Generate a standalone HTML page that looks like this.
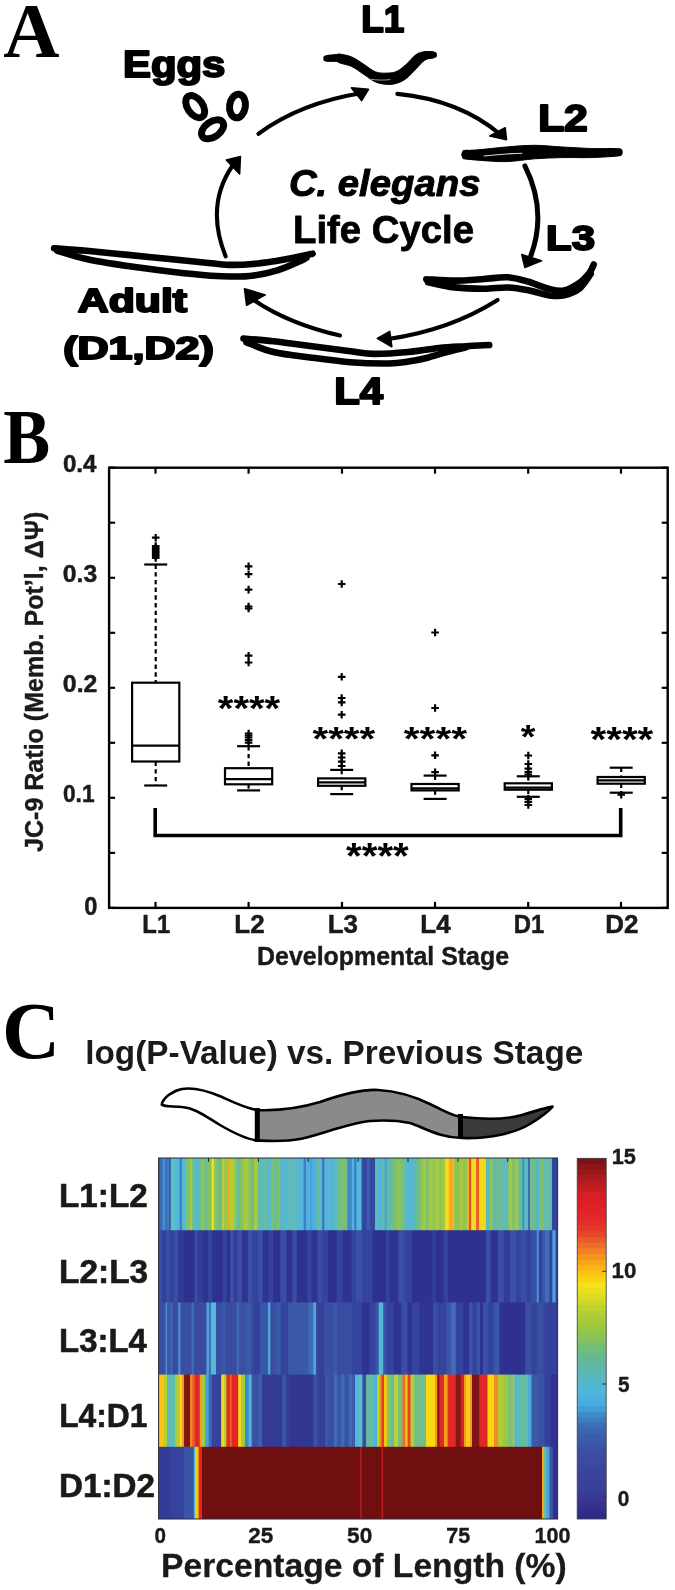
<!DOCTYPE html>
<html><head><meta charset="utf-8"><style>
html,body{margin:0;padding:0;background:#fff;}
svg{display:block;will-change:transform;}
</style></head><body>
<svg width="675" height="1590" viewBox="0 0 675 1590">
<rect width="675" height="1590" fill="#fff"/>
<text transform="translate(3.22,56.60) scale(1.0019,1)" font-family="Liberation Serif" font-weight="bold" font-style="normal" font-size="77.73" fill="#000">A</text>
<text transform="translate(123.08,77.40) scale(1.1594,1)" font-family="Liberation Sans" font-weight="bold" font-style="normal" font-size="36.09" fill="#000" stroke="#000" stroke-width="2.00" stroke-linejoin="round">Eggs</text>
<text transform="translate(361.20,31.70) scale(0.9877,1)" font-family="Liberation Sans" font-weight="bold" font-style="normal" font-size="37.39" fill="#000" stroke="#000" stroke-width="2.00" stroke-linejoin="round">L1</text>
<text transform="translate(538.13,130.60) scale(1.1634,1)" font-family="Liberation Sans" font-weight="bold" font-style="normal" font-size="36.57" fill="#000" stroke="#000" stroke-width="2.00" stroke-linejoin="round">L2</text>
<text transform="translate(546.08,249.90) scale(1.1773,1)" font-family="Liberation Sans" font-weight="bold" font-style="normal" font-size="35.57" fill="#000" stroke="#000" stroke-width="2.00" stroke-linejoin="round">L3</text>
<text transform="translate(334.28,404.10) scale(1.1318,1)" font-family="Liberation Sans" font-weight="bold" font-style="normal" font-size="36.96" fill="#000" stroke="#000" stroke-width="2.00" stroke-linejoin="round">L4</text>
<text transform="translate(77.73,312.20) scale(1.2903,1)" font-family="Liberation Sans" font-weight="bold" font-style="normal" font-size="33.19" fill="#000" stroke="#000" stroke-width="2.00" stroke-linejoin="round">Adult</text>
<text transform="translate(63.15,359.10) scale(1.3690,1)" font-family="Liberation Sans" font-weight="bold" font-style="normal" font-size="31.45" fill="#000" stroke="#000" stroke-width="2.00" stroke-linejoin="round">(D1,D2)</text>
<text transform="translate(288.88,196.10) scale(1.0315,1)" font-family="Liberation Sans" font-weight="bold" font-style="italic" font-size="37.14" fill="#000" stroke="#000" stroke-width="1.00" stroke-linejoin="round">C. elegans</text>
<text transform="translate(293.01,243.00) scale(0.9938,1)" font-family="Liberation Sans" font-weight="bold" font-style="normal" font-size="38.55" fill="#000" stroke="#000" stroke-width="0.80" stroke-linejoin="round">Life Cycle</text>
<g fill="none" stroke="#000" stroke-width="7">
<ellipse cx="195.2" cy="106.6" rx="12.4" ry="7.6" transform="rotate(55 195.2 106.6)"/>
<ellipse cx="212.6" cy="129.3" rx="12.4" ry="7.6" transform="rotate(-35 212.6 129.3)"/>
<ellipse cx="237.5" cy="106" rx="11.9" ry="7.9" transform="rotate(98 237.5 106)"/>
</g>
<g fill="none" stroke="#000" stroke-width="4.1" stroke-linecap="round">
<path d="M258.4,133.8 Q300,103 362,93"/>
<path d="M397.3,93.9 Q460,100 501,135"/>
<path d="M524.9,165.9 Q548,212 530,258" stroke-width="5"/>
<path d="M497.6,299.9 Q450,330 388,339"/>
<path d="M340,335.5 Q285,323 248,296"/>
<path d="M225.6,256.3 Q205,205 233,165"/>
</g>
<g fill="#000" stroke="#000" stroke-width="1.6" stroke-linejoin="round">
<path d="M368.5,89.4 L351.5,87.9 L361.6,100.6 Z"/>
<path d="M506.5,139.7 L489.8,135.9 L505.2,127.8 Z"/>
<path d="M524.9,267.5 L521.8,254.6 L541.5,260.8 Z"/>
<path d="M377.3,338.4 L389.7,331.4 L391.8,346.7 Z"/>
<path d="M244.5,288.7 L246.6,305.3 L265.3,294.9 Z"/>
<path d="M240.4,156.6 L226.3,160 L239.6,174 Z"/>
</g>
<path d="M327.0,55.4 C328.5,55.3 333.8,54.8 336.0,54.6 C338.2,54.4 337.4,53.7 340.0,54.1 C342.6,54.5 347.9,55.4 351.9,57.1 C355.8,58.8 359.8,61.7 363.7,64.2 C367.6,66.7 371.7,70.4 375.6,71.9 C379.6,73.4 383.8,73.2 387.4,73.1 C390.9,73.0 393.7,72.8 396.9,71.3 C400.1,69.8 403.2,67.0 406.4,64.2 C409.6,61.4 412.8,56.8 415.9,54.7 C419.0,52.6 422.0,52.1 425.0,51.6 C428.0,51.1 432.3,51.8 433.8,51.8 L433.8,58.0 C432.3,58.3 428.0,58.2 425.0,60.0 C422.0,61.8 419.0,65.9 415.9,69.0 C412.8,72.1 409.6,76.0 406.4,78.4 C403.2,80.8 400.1,82.2 396.9,83.2 C393.7,84.2 390.9,84.6 387.4,84.4 C383.8,84.2 379.6,83.7 375.6,82.0 C371.7,80.3 367.6,76.9 363.7,74.3 C359.8,71.7 355.8,68.5 351.9,66.6 C347.9,64.7 342.6,63.9 340.0,63.0 C337.4,62.1 338.2,61.7 336.0,61.4 C333.8,61.1 328.5,61.4 327.0,61.4 Z" fill="#000" stroke="#000" stroke-width="1" stroke-linejoin="round"/>
<path d="M326.5,58.4 C327.8,58.4 332.8,58.2 334.0,58.2" fill="none" stroke="#000" stroke-width="6.4" stroke-linecap="round" stroke-linejoin="round"/>
<path d="M428.0,55.0 C429.0,55.0 432.8,54.9 433.8,54.9" fill="none" stroke="#000" stroke-width="6.4" stroke-linecap="round" stroke-linejoin="round"/>
<path d="M463.0,150.6 C465.5,150.5 470.8,150.4 478.0,149.8 C485.2,149.2 496.9,147.8 506.3,147.0 C515.7,146.2 525.0,145.3 534.4,145.3 C543.8,145.3 553.2,146.5 562.6,147.0 C572.0,147.5 582.5,148.2 590.7,148.5 C598.9,148.8 607.0,148.4 612.0,148.5 C617.0,148.6 619.5,148.9 621.0,149.0 L621.0,155.5 C619.5,155.7 617.0,156.2 612.0,156.5 C607.0,156.8 598.9,157.4 590.7,157.6 C582.5,157.8 572.0,157.4 562.6,157.6 C553.2,157.8 543.8,158.1 534.4,158.8 C525.0,159.5 515.7,161.4 506.3,161.6 C496.9,161.8 485.2,160.7 478.0,160.2 C470.8,159.7 465.5,158.9 463.0,158.6 Z" fill="#000" stroke="#000" stroke-width="1" stroke-linejoin="round"/>
<path d="M466.0,154.6 C467.0,154.7 471.0,154.9 472.0,155.0" fill="none" stroke="#000" stroke-width="9.5" stroke-linecap="round" stroke-linejoin="round"/>
<path d="M612.0,152.5 C613.2,152.5 617.8,152.3 619.0,152.3" fill="none" stroke="#000" stroke-width="7.5" stroke-linecap="round" stroke-linejoin="round"/>
<path d="M484,156 C495,154.8 508,153.6 522,153.2" fill="none" stroke="#fff" stroke-width="1.1" stroke-opacity="0.85" stroke-linecap="round"/>
<path d="M371,79.3 C377,80.2 384,80.4 390,79.6" fill="none" stroke="#fff" stroke-width="1" stroke-opacity="0.6" stroke-linecap="round"/>
<path d="M426.3,279.2 C431.0,279.4 444.8,280.6 454.4,280.6 C464.0,280.6 475.1,279.6 484.0,279.0 C492.9,278.4 500.4,276.8 507.8,277.3 C515.2,277.8 521.6,279.9 528.5,281.8 C535.4,283.8 543.4,287.6 549.3,289.0 C555.2,290.4 559.1,291.4 564.0,290.5 C568.9,289.6 574.7,286.2 578.9,283.3 C583.1,280.4 586.8,276.1 589.3,273.0 C591.8,269.9 593.0,265.9 593.7,264.5" fill="none" stroke="#000" stroke-width="6.6" stroke-linecap="round" stroke-linejoin="round"/>
<path d="M428.0,282.2 C432.4,283.1 445.1,286.3 454.4,287.4 C463.7,288.5 475.1,288.8 484.0,288.8 C492.9,288.8 500.4,287.2 507.8,287.5 C515.2,287.8 521.6,289.0 528.5,290.3 C535.4,291.6 543.4,294.5 549.3,295.4 C555.2,296.2 559.1,296.5 564.0,295.4 C568.9,294.3 574.4,292.6 578.9,289.0 C583.4,285.4 588.7,276.5 590.7,274.0" fill="none" stroke="#000" stroke-width="6.6" stroke-linecap="round" stroke-linejoin="round"/>
<path d="M243.5,338.5 C248.5,338.9 262.1,339.9 273.5,341.2 C284.9,342.5 299.2,344.5 312.0,346.2 C324.8,347.9 340.2,349.9 350.5,351.2 C360.8,352.5 364.1,353.8 373.7,353.9 C383.3,354.0 397.4,353.0 408.3,352.0 C419.2,351.0 429.4,349.0 439.0,348.0 C448.6,347.0 457.6,346.7 466.0,346.2 C474.4,345.7 485.3,345.2 489.2,345.0" fill="none" stroke="#000" stroke-width="6.6" stroke-linecap="round" stroke-linejoin="round"/>
<path d="M246.5,342.3 C251.0,343.9 262.6,349.4 273.5,352.0 C284.4,354.6 299.2,356.0 312.0,357.7 C324.8,359.4 337.7,361.3 350.5,362.3 C363.3,363.3 379.4,363.6 389.0,363.5 C398.6,363.4 401.9,362.6 408.3,361.6 C414.7,360.6 421.2,359.3 427.6,357.7 C434.0,356.1 440.4,353.7 446.8,352.0 C453.2,350.3 462.8,348.1 466.0,347.3" fill="none" stroke="#000" stroke-width="6.6" stroke-linecap="round" stroke-linejoin="round"/>
<path d="M54.1,248.3 C59.5,248.7 74.2,249.7 86.5,250.8 C98.8,251.9 114.2,253.5 128.0,254.9 C141.8,256.3 155.7,257.6 169.5,259.0 C183.3,260.4 200.6,262.2 211.0,263.2 C221.4,264.2 224.8,264.8 231.7,264.9 C238.6,265.0 244.9,264.7 252.5,264.0 C260.1,263.3 270.5,261.7 277.4,260.7 C284.3,259.7 288.1,259.0 294.0,257.8 C299.9,256.6 309.5,254.4 312.6,253.7" fill="none" stroke="#000" stroke-width="6.6" stroke-linecap="round" stroke-linejoin="round"/>
<path d="M57.4,250.8 C62.2,252.2 74.7,256.4 86.5,259.0 C98.3,261.6 114.2,264.0 128.0,266.1 C141.8,268.2 155.7,269.9 169.5,271.5 C183.3,273.1 200.6,274.9 211.0,275.7 C221.4,276.5 224.8,276.5 231.7,276.5 C238.6,276.5 244.9,276.7 252.5,275.7 C260.1,274.7 269.8,272.6 277.4,270.3 C285.0,268.0 293.2,264.1 298.0,262.0 C302.8,259.9 305.0,258.5 306.4,257.8" fill="none" stroke="#000" stroke-width="6.6" stroke-linecap="round" stroke-linejoin="round"/>
<text transform="translate(3.34,462.81) scale(0.8935,1)" font-family="Liberation Serif" font-weight="bold" font-style="normal" font-size="78.79" fill="#000">B</text>
<rect x="109.1" y="467.7" width="558.6" height="440.2" fill="none" stroke="#000" stroke-width="2.4"/>
<g stroke="#000" stroke-width="2.2">
<line x1="109.1" y1="907.9" x2="115.1" y2="907.9"/>
<line x1="667.7" y1="907.9" x2="661.7" y2="907.9"/>
<line x1="109.1" y1="852.9" x2="115.1" y2="852.9"/>
<line x1="667.7" y1="852.9" x2="661.7" y2="852.9"/>
<line x1="109.1" y1="797.8" x2="115.1" y2="797.8"/>
<line x1="667.7" y1="797.8" x2="661.7" y2="797.8"/>
<line x1="109.1" y1="742.8" x2="115.1" y2="742.8"/>
<line x1="667.7" y1="742.8" x2="661.7" y2="742.8"/>
<line x1="109.1" y1="687.8" x2="115.1" y2="687.8"/>
<line x1="667.7" y1="687.8" x2="661.7" y2="687.8"/>
<line x1="109.1" y1="632.8" x2="115.1" y2="632.8"/>
<line x1="667.7" y1="632.8" x2="661.7" y2="632.8"/>
<line x1="109.1" y1="577.8" x2="115.1" y2="577.8"/>
<line x1="667.7" y1="577.8" x2="661.7" y2="577.8"/>
<line x1="109.1" y1="522.7" x2="115.1" y2="522.7"/>
<line x1="667.7" y1="522.7" x2="661.7" y2="522.7"/>
<line x1="109.1" y1="467.7" x2="115.1" y2="467.7"/>
<line x1="667.7" y1="467.7" x2="661.7" y2="467.7"/>
<line x1="155.5" y1="907.9" x2="155.5" y2="901.9"/>
<line x1="155.5" y1="467.7" x2="155.5" y2="473.7"/>
<line x1="248.6" y1="907.9" x2="248.6" y2="901.9"/>
<line x1="248.6" y1="467.7" x2="248.6" y2="473.7"/>
<line x1="342" y1="907.9" x2="342" y2="901.9"/>
<line x1="342" y1="467.7" x2="342" y2="473.7"/>
<line x1="435" y1="907.9" x2="435" y2="901.9"/>
<line x1="435" y1="467.7" x2="435" y2="473.7"/>
<line x1="528.2" y1="907.9" x2="528.2" y2="901.9"/>
<line x1="528.2" y1="467.7" x2="528.2" y2="473.7"/>
<line x1="621" y1="907.9" x2="621" y2="901.9"/>
<line x1="621" y1="467.7" x2="621" y2="473.7"/>
</g>
<text transform="translate(62.88,472.30) scale(0.9748,1)" font-family="Liberation Sans" font-weight="bold" font-style="normal" font-size="24.79" fill="#1a1a1a" stroke="#1a1a1a" stroke-width="0.50" stroke-linejoin="round">0.4</text>
<text transform="translate(62.86,582.35) scale(0.9970,1)" font-family="Liberation Sans" font-weight="bold" font-style="normal" font-size="24.79" fill="#1a1a1a" stroke="#1a1a1a" stroke-width="0.50" stroke-linejoin="round">0.3</text>
<text transform="translate(62.86,692.40) scale(1.0008,1)" font-family="Liberation Sans" font-weight="bold" font-style="normal" font-size="24.79" fill="#1a1a1a" stroke="#1a1a1a" stroke-width="0.50" stroke-linejoin="round">0.2</text>
<text transform="translate(62.94,802.45) scale(0.9164,1)" font-family="Liberation Sans" font-weight="bold" font-style="normal" font-size="24.79" fill="#1a1a1a" stroke="#1a1a1a" stroke-width="0.50" stroke-linejoin="round">0.1</text>
<text transform="translate(84.21,915.49) scale(0.9198,1)" font-family="Liberation Sans" font-weight="bold" font-style="normal" font-size="25.63" fill="#1a1a1a" stroke="#1a1a1a" stroke-width="0.50" stroke-linejoin="round">0</text>
<text transform="translate(142.32,932.75) scale(0.9200,1)" font-family="Liberation Sans" font-weight="bold" font-style="normal" font-size="25.94" fill="#1a1a1a" stroke="#1a1a1a" stroke-width="0.50" stroke-linejoin="round">L1</text>
<text transform="translate(234.36,932.75) scale(1.0000,1)" font-family="Liberation Sans" font-weight="bold" font-style="normal" font-size="25.94" fill="#1a1a1a" stroke="#1a1a1a" stroke-width="0.50" stroke-linejoin="round">L2</text>
<text transform="translate(327.70,932.75) scale(1.0000,1)" font-family="Liberation Sans" font-weight="bold" font-style="normal" font-size="25.94" fill="#1a1a1a" stroke="#1a1a1a" stroke-width="0.50" stroke-linejoin="round">L3</text>
<text transform="translate(420.31,932.75) scale(1.0000,1)" font-family="Liberation Sans" font-weight="bold" font-style="normal" font-size="25.94" fill="#1a1a1a" stroke="#1a1a1a" stroke-width="0.50" stroke-linejoin="round">L4</text>
<text transform="translate(513.71,932.75) scale(0.9200,1)" font-family="Liberation Sans" font-weight="bold" font-style="normal" font-size="25.94" fill="#1a1a1a" stroke="#1a1a1a" stroke-width="0.50" stroke-linejoin="round">D1</text>
<text transform="translate(605.34,932.75) scale(1.0000,1)" font-family="Liberation Sans" font-weight="bold" font-style="normal" font-size="25.94" fill="#1a1a1a" stroke="#1a1a1a" stroke-width="0.50" stroke-linejoin="round">D2</text>
<text transform="translate(257.08,964.70) scale(0.9940,1)" font-family="Liberation Sans" font-weight="bold" font-style="normal" font-size="25.07" fill="#1a1a1a" stroke="#1a1a1a" stroke-width="0.40" stroke-linejoin="round">Developmental Stage</text>
<g transform="translate(42.9,851.6) rotate(-90)">
<text transform="translate(-0.38,0) scale(0.9500,1)" font-family="Liberation Sans" font-weight="bold" font-size="26.38" fill="#1a1a1a" stroke="#1a1a1a" stroke-width="0.4">JC-9 Ratio (Memb. Pot’l, ΔΨ)</text>
</g>
<g stroke="#000" stroke-width="2.2" fill="none">
<rect x="132.1" y="682.7" width="47.2" height="78.8"/>
<line x1="132.1" y1="745.6" x2="179.3" y2="745.6"/>
<line x1="144.2" y1="785.5" x2="167.2" y2="785.5"/>
<line x1="144.2" y1="564.5" x2="167.2" y2="564.5"/>
<line x1="155.7" y1="564.5" x2="155.7" y2="682.7" stroke-dasharray="4.4,3.3"/>
<line x1="155.7" y1="761.5" x2="155.7" y2="785.5" stroke-dasharray="4.4,3.3"/>
<rect x="225.0" y="768.2" width="47.2" height="16.1"/>
<line x1="225.0" y1="779.2" x2="272.2" y2="779.2"/>
<line x1="237.1" y1="790.4" x2="260.1" y2="790.4"/>
<line x1="237.1" y1="746.2" x2="260.1" y2="746.2"/>
<line x1="248.6" y1="746.2" x2="248.6" y2="768.2" stroke-dasharray="4.4,3.3"/>
<line x1="248.6" y1="784.3" x2="248.6" y2="790.4" stroke-dasharray="4.4,3.3"/>
<rect x="318.1" y="778.4" width="47.2" height="7.4"/>
<line x1="318.1" y1="782.3" x2="365.3" y2="782.3"/>
<line x1="330.2" y1="794.1" x2="353.2" y2="794.1"/>
<line x1="330.2" y1="769.9" x2="353.2" y2="769.9"/>
<line x1="341.7" y1="769.9" x2="341.7" y2="778.4" stroke-dasharray="4.4,3.3"/>
<line x1="341.7" y1="785.8" x2="341.7" y2="794.1" stroke-dasharray="4.4,3.3"/>
<rect x="411.5" y="784.0" width="47.2" height="6.4"/>
<line x1="411.5" y1="788.3" x2="458.7" y2="788.3"/>
<line x1="423.6" y1="798.9" x2="446.6" y2="798.9"/>
<line x1="423.6" y1="775.6" x2="446.6" y2="775.6"/>
<line x1="435.1" y1="775.6" x2="435.1" y2="784.0" stroke-dasharray="4.4,3.3"/>
<line x1="435.1" y1="790.4" x2="435.1" y2="798.9" stroke-dasharray="4.4,3.3"/>
<rect x="504.7" y="783.3" width="47.2" height="6.4"/>
<line x1="504.7" y1="787.6" x2="551.9" y2="787.6"/>
<line x1="516.8" y1="796.8" x2="539.8" y2="796.8"/>
<line x1="516.8" y1="776.3" x2="539.8" y2="776.3"/>
<line x1="528.3" y1="776.3" x2="528.3" y2="783.3" stroke-dasharray="4.4,3.3"/>
<line x1="528.3" y1="789.7" x2="528.3" y2="796.8" stroke-dasharray="4.4,3.3"/>
<rect x="597.6" y="777.0" width="47.2" height="6.7"/>
<line x1="597.6" y1="780.3" x2="644.8" y2="780.3"/>
<line x1="609.7" y1="792.7" x2="632.7" y2="792.7"/>
<line x1="609.7" y1="767.7" x2="632.7" y2="767.7"/>
<line x1="621.2" y1="767.7" x2="621.2" y2="777.0" stroke-dasharray="4.4,3.3"/>
<line x1="621.2" y1="783.7" x2="621.2" y2="792.7" stroke-dasharray="4.4,3.3"/>
</g>
<g stroke="#000" stroke-width="2.2">
<path d="M151.9,537.7 h7.6 M155.7,533.9000000000001 v7.6"/>
<path d="M151.9,546 h7.6 M155.7,542.2 v7.6"/>
<path d="M151.9,547.5 h7.6 M155.7,543.7 v7.6"/>
<path d="M151.9,549 h7.6 M155.7,545.2 v7.6"/>
<path d="M151.9,550.5 h7.6 M155.7,546.7 v7.6"/>
<path d="M151.9,552 h7.6 M155.7,548.2 v7.6"/>
<path d="M151.9,553.5 h7.6 M155.7,549.7 v7.6"/>
<path d="M151.9,555 h7.6 M155.7,551.2 v7.6"/>
<path d="M151.9,556.5 h7.6 M155.7,552.7 v7.6"/>
<path d="M151.9,558 h7.6 M155.7,554.2 v7.6"/>
<path d="M244.8,566.3 h7.6 M248.6,562.5 v7.6"/>
<path d="M244.8,574.2 h7.6 M248.6,570.4000000000001 v7.6"/>
<path d="M244.8,589.6 h7.6 M248.6,585.8000000000001 v7.6"/>
<path d="M244.8,606.5 h7.6 M248.6,602.7 v7.6"/>
<path d="M244.8,608.5 h7.6 M248.6,604.7 v7.6"/>
<path d="M244.8,655.7 h7.6 M248.6,651.9000000000001 v7.6"/>
<path d="M244.8,662.5 h7.6 M248.6,658.7 v7.6"/>
<path d="M244.8,733.5 h7.6 M248.6,729.7 v7.6"/>
<path d="M244.8,735.5 h7.6 M248.6,731.7 v7.6"/>
<path d="M244.8,737.5 h7.6 M248.6,733.7 v7.6"/>
<path d="M244.8,740 h7.6 M248.6,736.2 v7.6"/>
<path d="M244.8,742.6 h7.6 M248.6,738.8000000000001 v7.6"/>
<path d="M337.9,584 h7.6 M341.7,580.2 v7.6"/>
<path d="M337.9,676.8 h7.6 M341.7,673.0 v7.6"/>
<path d="M337.9,698 h7.6 M341.7,694.2 v7.6"/>
<path d="M337.9,702.4 h7.6 M341.7,698.6 v7.6"/>
<path d="M337.9,714.7 h7.6 M341.7,710.9000000000001 v7.6"/>
<path d="M337.9,753.3 h7.6 M341.7,749.5 v7.6"/>
<path d="M337.9,757.5 h7.6 M341.7,753.7 v7.6"/>
<path d="M337.9,761.6 h7.6 M341.7,757.8000000000001 v7.6"/>
<path d="M337.9,766 h7.6 M341.7,762.2 v7.6"/>
<path d="M431.3,632.5 h7.6 M435.1,628.7 v7.6"/>
<path d="M431.3,708 h7.6 M435.1,704.2 v7.6"/>
<path d="M431.3,755.3 h7.6 M435.1,751.5 v7.6"/>
<path d="M431.3,772.2 h7.6 M435.1,768.4000000000001 v7.6"/>
<path d="M524.5,755.5 h7.6 M528.3,751.7 v7.6"/>
<path d="M524.5,764 h7.6 M528.3,760.2 v7.6"/>
<path d="M524.5,768.6 h7.6 M528.3,764.8000000000001 v7.6"/>
<path d="M524.5,772 h7.6 M528.3,768.2 v7.6"/>
<path d="M524.5,774.5 h7.6 M528.3,770.7 v7.6"/>
<path d="M524.5,798.8 h7.6 M528.3,795.0 v7.6"/>
<path d="M524.5,801.8 h7.6 M528.3,798.0 v7.6"/>
<path d="M524.5,805 h7.6 M528.3,801.2 v7.6"/>
<path d="M617.4,794.7 h7.6 M621.2,790.9000000000001 v7.6"/>
</g>
<text transform="translate(217.80,719.67) scale(1.1600,1)" font-family="Liberation Sans" font-weight="bold" font-style="normal" font-size="34.59" fill="#000">****</text>
<text transform="translate(312.50,749.94) scale(1.2130,1)" font-family="Liberation Sans" font-weight="bold" font-style="normal" font-size="33.24" fill="#000">****</text>
<text transform="translate(403.80,750.18) scale(1.2533,1)" font-family="Liberation Sans" font-weight="bold" font-style="normal" font-size="32.43" fill="#000">****</text>
<text transform="translate(590.50,750.94) scale(1.1477,1)" font-family="Liberation Sans" font-weight="bold" font-style="normal" font-size="35.14" fill="#000">****</text>
<text transform="translate(346.10,869.34) scale(1.0794,1)" font-family="Liberation Sans" font-weight="bold" font-style="normal" font-size="37.30" fill="#000">****</text>
<text transform="translate(520.81,747.50) scale(1.1051,1)" font-family="Liberation Sans" font-weight="bold" font-style="normal" font-size="34.05" fill="#000">*</text>
<path d="M155.2,808 V835.5 H620.7 V808" fill="none" stroke="#000" stroke-width="3.6"/>
<text transform="translate(1.97,1057.89) scale(0.9970,1)" font-family="Liberation Serif" font-weight="bold" font-style="normal" font-size="80.75" fill="#000">C</text>
<text transform="translate(85.27,1063.70) scale(1.0192,1)" font-family="Liberation Sans" font-weight="bold" font-style="normal" font-size="32.69" fill="#1a1a1a">log(P-Value) vs. Previous Stage</text>
<defs><linearGradient id="hr0" gradientUnits="userSpaceOnUse" x1="158.6" y1="0" x2="557.6" y2="0"><stop offset="0.00000" stop-color="#3a4fa3"/><stop offset="0.00163" stop-color="#3a4fa3"/><stop offset="0.00388" stop-color="#3b6db5"/><stop offset="0.00915" stop-color="#3b6db5"/><stop offset="0.01140" stop-color="#4a8fcf"/><stop offset="0.01541" stop-color="#4a8fcf"/><stop offset="0.01767" stop-color="#3b6db5"/><stop offset="0.01917" stop-color="#3b6db5"/><stop offset="0.02143" stop-color="#3d77bd"/><stop offset="0.02569" stop-color="#3d77bd"/><stop offset="0.02794" stop-color="#3a5aa8"/><stop offset="0.02945" stop-color="#3a5aa8"/><stop offset="0.03170" stop-color="#5cc0c9"/><stop offset="0.04073" stop-color="#5cc0c9"/><stop offset="0.04298" stop-color="#54b6dc"/><stop offset="0.05175" stop-color="#54b6dc"/><stop offset="0.05401" stop-color="#3a80c4"/><stop offset="0.05727" stop-color="#3a80c4"/><stop offset="0.05952" stop-color="#55b9d8"/><stop offset="0.06654" stop-color="#55b9d8"/><stop offset="0.06880" stop-color="#7fc27a"/><stop offset="0.07757" stop-color="#7fc27a"/><stop offset="0.07982" stop-color="#a8cb3c"/><stop offset="0.08333" stop-color="#a8cb3c"/><stop offset="0.08559" stop-color="#68bd9a"/><stop offset="0.08885" stop-color="#68bd9a"/><stop offset="0.09110" stop-color="#5abbc8"/><stop offset="0.10013" stop-color="#5abbc8"/><stop offset="0.10238" stop-color="#6ebe8a"/><stop offset="0.10564" stop-color="#6ebe8a"/><stop offset="0.10789" stop-color="#8ac45e"/><stop offset="0.11491" stop-color="#8ac45e"/><stop offset="0.11717" stop-color="#63bca0"/><stop offset="0.12043" stop-color="#63bca0"/><stop offset="0.12268" stop-color="#86c35f"/><stop offset="0.13170" stop-color="#86c35f"/><stop offset="0.13396" stop-color="#ece227"/><stop offset="0.13722" stop-color="#ece227"/><stop offset="0.13947" stop-color="#95c650"/><stop offset="0.14449" stop-color="#95c650"/><stop offset="0.14674" stop-color="#6dbd8e"/><stop offset="0.15752" stop-color="#6dbd8e"/><stop offset="0.15977" stop-color="#b9d030"/><stop offset="0.16303" stop-color="#b9d030"/><stop offset="0.16529" stop-color="#9bc74a"/><stop offset="0.17055" stop-color="#9bc74a"/><stop offset="0.17281" stop-color="#f3a51d"/><stop offset="0.17782" stop-color="#f3a51d"/><stop offset="0.18008" stop-color="#b5cf33"/><stop offset="0.18734" stop-color="#b5cf33"/><stop offset="0.18960" stop-color="#91c554"/><stop offset="0.19461" stop-color="#91c554"/><stop offset="0.19687" stop-color="#5fbcb2"/><stop offset="0.20213" stop-color="#5fbcb2"/><stop offset="0.20439" stop-color="#84c362"/><stop offset="0.21140" stop-color="#84c362"/><stop offset="0.21366" stop-color="#a6cb3f"/><stop offset="0.22268" stop-color="#a6cb3f"/><stop offset="0.22494" stop-color="#8fc557"/><stop offset="0.22995" stop-color="#8fc557"/><stop offset="0.23221" stop-color="#6fbe8a"/><stop offset="0.23747" stop-color="#6fbe8a"/><stop offset="0.23972" stop-color="#a8cb3c"/><stop offset="0.24724" stop-color="#a8cb3c"/><stop offset="0.24950" stop-color="#64bba6"/><stop offset="0.25476" stop-color="#64bba6"/><stop offset="0.25702" stop-color="#5bbac0"/><stop offset="0.26203" stop-color="#5bbac0"/><stop offset="0.26429" stop-color="#66bca0"/><stop offset="0.27130" stop-color="#66bca0"/><stop offset="0.27356" stop-color="#5ab9c6"/><stop offset="0.28058" stop-color="#5ab9c6"/><stop offset="0.28283" stop-color="#7ac077"/><stop offset="0.28810" stop-color="#7ac077"/><stop offset="0.29035" stop-color="#66bca0"/><stop offset="0.29361" stop-color="#66bca0"/><stop offset="0.29586" stop-color="#7cc172"/><stop offset="0.30414" stop-color="#7cc172"/><stop offset="0.30639" stop-color="#53b5dd"/><stop offset="0.31216" stop-color="#53b5dd"/><stop offset="0.31441" stop-color="#58b9cf"/><stop offset="0.32143" stop-color="#58b9cf"/><stop offset="0.32368" stop-color="#62bbaa"/><stop offset="0.32895" stop-color="#62bbaa"/><stop offset="0.33120" stop-color="#57b8d0"/><stop offset="0.33647" stop-color="#57b8d0"/><stop offset="0.33872" stop-color="#68bd9a"/><stop offset="0.34198" stop-color="#68bd9a"/><stop offset="0.34424" stop-color="#58b8d2"/><stop offset="0.34925" stop-color="#58b8d2"/><stop offset="0.35150" stop-color="#55b6dc"/><stop offset="0.36228" stop-color="#55b6dc"/><stop offset="0.36454" stop-color="#3a7fc2"/><stop offset="0.36805" stop-color="#3a7fc2"/><stop offset="0.37030" stop-color="#4eb1e0"/><stop offset="0.37907" stop-color="#4eb1e0"/><stop offset="0.38133" stop-color="#4a9fd8"/><stop offset="0.38459" stop-color="#4a9fd8"/><stop offset="0.38684" stop-color="#50b3df"/><stop offset="0.39586" stop-color="#50b3df"/><stop offset="0.39812" stop-color="#72be80"/><stop offset="0.40313" stop-color="#72be80"/><stop offset="0.40539" stop-color="#5ab8c8"/><stop offset="0.40865" stop-color="#5ab8c8"/><stop offset="0.41090" stop-color="#3a78bf"/><stop offset="0.41441" stop-color="#3a78bf"/><stop offset="0.41667" stop-color="#53b5dc"/><stop offset="0.42368" stop-color="#53b5dc"/><stop offset="0.42594" stop-color="#58b9d0"/><stop offset="0.43095" stop-color="#58b9d0"/><stop offset="0.43321" stop-color="#50b3df"/><stop offset="0.43847" stop-color="#50b3df"/><stop offset="0.44073" stop-color="#5bbac2"/><stop offset="0.44599" stop-color="#5bbac2"/><stop offset="0.44825" stop-color="#6ebe88"/><stop offset="0.45326" stop-color="#6ebe88"/><stop offset="0.45551" stop-color="#78c078"/><stop offset="0.47180" stop-color="#78c078"/><stop offset="0.47406" stop-color="#3f8acb"/><stop offset="0.48308" stop-color="#3f8acb"/><stop offset="0.48534" stop-color="#52b4dc"/><stop offset="0.48910" stop-color="#52b4dc"/><stop offset="0.49135" stop-color="#3a7dc2"/><stop offset="0.49461" stop-color="#3a7dc2"/><stop offset="0.49687" stop-color="#55b7dd"/><stop offset="0.50764" stop-color="#55b7dd"/><stop offset="0.50990" stop-color="#3548a0"/><stop offset="0.52068" stop-color="#3548a0"/><stop offset="0.52293" stop-color="#3c5fae"/><stop offset="0.52820" stop-color="#3c5fae"/><stop offset="0.53045" stop-color="#3548a0"/><stop offset="0.54123" stop-color="#3548a0"/><stop offset="0.54348" stop-color="#5cbab5"/><stop offset="0.54850" stop-color="#5cbab5"/><stop offset="0.55075" stop-color="#50b4dc"/><stop offset="0.55777" stop-color="#50b4dc"/><stop offset="0.56003" stop-color="#62bba8"/><stop offset="0.56529" stop-color="#62bba8"/><stop offset="0.56754" stop-color="#4aa3d6"/><stop offset="0.57080" stop-color="#4aa3d6"/><stop offset="0.57306" stop-color="#60bbab"/><stop offset="0.58208" stop-color="#60bbab"/><stop offset="0.58434" stop-color="#72bf80"/><stop offset="0.59486" stop-color="#72bf80"/><stop offset="0.59712" stop-color="#90c553"/><stop offset="0.60414" stop-color="#90c553"/><stop offset="0.60639" stop-color="#7cc070"/><stop offset="0.61541" stop-color="#7cc070"/><stop offset="0.61767" stop-color="#58b8cc"/><stop offset="0.62293" stop-color="#58b8cc"/><stop offset="0.62519" stop-color="#54b6d8"/><stop offset="0.63221" stop-color="#54b6d8"/><stop offset="0.63446" stop-color="#5abac4"/><stop offset="0.64323" stop-color="#5abac4"/><stop offset="0.64549" stop-color="#68bd96"/><stop offset="0.65075" stop-color="#68bd96"/><stop offset="0.65301" stop-color="#7dc16e"/><stop offset="0.65802" stop-color="#7dc16e"/><stop offset="0.66028" stop-color="#9ec848"/><stop offset="0.66930" stop-color="#9ec848"/><stop offset="0.67155" stop-color="#80c26a"/><stop offset="0.67657" stop-color="#80c26a"/><stop offset="0.67882" stop-color="#a5ca40"/><stop offset="0.68584" stop-color="#a5ca40"/><stop offset="0.68810" stop-color="#88c360"/><stop offset="0.69160" stop-color="#88c360"/><stop offset="0.69386" stop-color="#a9cb3a"/><stop offset="0.70263" stop-color="#a9cb3a"/><stop offset="0.70489" stop-color="#8dc45a"/><stop offset="0.71015" stop-color="#8dc45a"/><stop offset="0.71241" stop-color="#a8cb3d"/><stop offset="0.71742" stop-color="#a8cb3d"/><stop offset="0.71967" stop-color="#f0e020"/><stop offset="0.72419" stop-color="#f0e020"/><stop offset="0.72644" stop-color="#fbc813"/><stop offset="0.72870" stop-color="#fbc813"/><stop offset="0.73095" stop-color="#f69e1f"/><stop offset="0.73296" stop-color="#f69e1f"/><stop offset="0.73521" stop-color="#f7b617"/><stop offset="0.73947" stop-color="#f7b617"/><stop offset="0.74173" stop-color="#8fc557"/><stop offset="0.75376" stop-color="#8fc557"/><stop offset="0.75602" stop-color="#a5ca40"/><stop offset="0.76178" stop-color="#a5ca40"/><stop offset="0.76404" stop-color="#95c650"/><stop offset="0.77331" stop-color="#95c650"/><stop offset="0.77556" stop-color="#f0dc1e"/><stop offset="0.77607" stop-color="#f0dc1e"/><stop offset="0.77832" stop-color="#ea4a26"/><stop offset="0.78233" stop-color="#ea4a26"/><stop offset="0.78459" stop-color="#ecdc22"/><stop offset="0.79461" stop-color="#ecdc22"/><stop offset="0.79687" stop-color="#ee6025"/><stop offset="0.80188" stop-color="#ee6025"/><stop offset="0.80414" stop-color="#f5d814"/><stop offset="0.81917" stop-color="#f5d814"/><stop offset="0.82143" stop-color="#5abac2"/><stop offset="0.82920" stop-color="#5abac2"/><stop offset="0.83145" stop-color="#98c74e"/><stop offset="0.83546" stop-color="#98c74e"/><stop offset="0.83772" stop-color="#63bba6"/><stop offset="0.84774" stop-color="#63bba6"/><stop offset="0.85000" stop-color="#74bf80"/><stop offset="0.85576" stop-color="#74bf80"/><stop offset="0.85802" stop-color="#5fbbb6"/><stop offset="0.87005" stop-color="#5fbbb6"/><stop offset="0.87231" stop-color="#66bca0"/><stop offset="0.87632" stop-color="#66bca0"/><stop offset="0.87857" stop-color="#a2c944"/><stop offset="0.88434" stop-color="#a2c944"/><stop offset="0.88659" stop-color="#84c265"/><stop offset="0.89261" stop-color="#84c265"/><stop offset="0.89486" stop-color="#9ec849"/><stop offset="0.90063" stop-color="#9ec849"/><stop offset="0.90288" stop-color="#66bca2"/><stop offset="0.91090" stop-color="#66bca2"/><stop offset="0.91316" stop-color="#3e88c8"/><stop offset="0.91516" stop-color="#3e88c8"/><stop offset="0.91742" stop-color="#5bbac3"/><stop offset="0.92444" stop-color="#5bbac3"/><stop offset="0.92669" stop-color="#3b6cb6"/><stop offset="0.92945" stop-color="#3b6cb6"/><stop offset="0.93170" stop-color="#6dbe8c"/><stop offset="0.94574" stop-color="#6dbe8c"/><stop offset="0.94799" stop-color="#50b3de"/><stop offset="0.95175" stop-color="#50b3de"/><stop offset="0.95401" stop-color="#7fc16e"/><stop offset="0.96404" stop-color="#7fc16e"/><stop offset="0.96629" stop-color="#62bbac"/><stop offset="0.98459" stop-color="#62bbac"/><stop offset="0.98684" stop-color="#33449c"/><stop offset="0.99887" stop-color="#33449c"/></linearGradient><linearGradient id="hr1" gradientUnits="userSpaceOnUse" x1="158.6" y1="0" x2="557.6" y2="0"><stop offset="0.00000" stop-color="#3a50a4"/><stop offset="0.00739" stop-color="#3a50a4"/><stop offset="0.00965" stop-color="#33409c"/><stop offset="0.01842" stop-color="#33409c"/><stop offset="0.02068" stop-color="#3a52a6"/><stop offset="0.02569" stop-color="#3a52a6"/><stop offset="0.02794" stop-color="#34449e"/><stop offset="0.03697" stop-color="#34449e"/><stop offset="0.03922" stop-color="#3a4ea2"/><stop offset="0.04799" stop-color="#3a4ea2"/><stop offset="0.05025" stop-color="#313a95"/><stop offset="0.06278" stop-color="#313a95"/><stop offset="0.06504" stop-color="#2e3190"/><stop offset="0.08885" stop-color="#2e3190"/><stop offset="0.09110" stop-color="#3a4ea2"/><stop offset="0.09637" stop-color="#3a4ea2"/><stop offset="0.09862" stop-color="#333c97"/><stop offset="0.11115" stop-color="#333c97"/><stop offset="0.11341" stop-color="#2e3190"/><stop offset="0.12243" stop-color="#2e3190"/><stop offset="0.12469" stop-color="#34449e"/><stop offset="0.13346" stop-color="#34449e"/><stop offset="0.13571" stop-color="#2e3190"/><stop offset="0.15952" stop-color="#2e3190"/><stop offset="0.16178" stop-color="#34449e"/><stop offset="0.17055" stop-color="#34449e"/><stop offset="0.17281" stop-color="#2e3190"/><stop offset="0.17807" stop-color="#2e3190"/><stop offset="0.18033" stop-color="#3a52a6"/><stop offset="0.18684" stop-color="#3a52a6"/><stop offset="0.18910" stop-color="#333c97"/><stop offset="0.19662" stop-color="#333c97"/><stop offset="0.19887" stop-color="#3a4ea2"/><stop offset="0.20764" stop-color="#3a4ea2"/><stop offset="0.20990" stop-color="#2f3492"/><stop offset="0.22268" stop-color="#2f3492"/><stop offset="0.22494" stop-color="#3a4ea2"/><stop offset="0.23371" stop-color="#3a4ea2"/><stop offset="0.23596" stop-color="#34449e"/><stop offset="0.24850" stop-color="#34449e"/><stop offset="0.25075" stop-color="#3a50a4"/><stop offset="0.25977" stop-color="#3a50a4"/><stop offset="0.26203" stop-color="#2f3492"/><stop offset="0.27456" stop-color="#2f3492"/><stop offset="0.27682" stop-color="#34449e"/><stop offset="0.28559" stop-color="#34449e"/><stop offset="0.28784" stop-color="#2e3190"/><stop offset="0.30414" stop-color="#2e3190"/><stop offset="0.30639" stop-color="#3a4ea2"/><stop offset="0.31917" stop-color="#3a4ea2"/><stop offset="0.32143" stop-color="#2f3492"/><stop offset="0.33396" stop-color="#2f3492"/><stop offset="0.33622" stop-color="#3a4ea2"/><stop offset="0.34499" stop-color="#3a4ea2"/><stop offset="0.34724" stop-color="#2e3190"/><stop offset="0.37105" stop-color="#2e3190"/><stop offset="0.37331" stop-color="#34449e"/><stop offset="0.38233" stop-color="#34449e"/><stop offset="0.38459" stop-color="#2f3492"/><stop offset="0.39712" stop-color="#2f3492"/><stop offset="0.39937" stop-color="#3a4ea2"/><stop offset="0.40815" stop-color="#3a4ea2"/><stop offset="0.41040" stop-color="#34449e"/><stop offset="0.42318" stop-color="#34449e"/><stop offset="0.42544" stop-color="#2e3190"/><stop offset="0.44524" stop-color="#2e3190"/><stop offset="0.44749" stop-color="#34449e"/><stop offset="0.46028" stop-color="#34449e"/><stop offset="0.46253" stop-color="#2f3492"/><stop offset="0.48258" stop-color="#2f3492"/><stop offset="0.48484" stop-color="#34449e"/><stop offset="0.49361" stop-color="#34449e"/><stop offset="0.49586" stop-color="#3a4ea2"/><stop offset="0.50865" stop-color="#3a4ea2"/><stop offset="0.51090" stop-color="#34449e"/><stop offset="0.53521" stop-color="#34449e"/><stop offset="0.53747" stop-color="#2e3190"/><stop offset="0.56930" stop-color="#2e3190"/><stop offset="0.57155" stop-color="#34449e"/><stop offset="0.57682" stop-color="#34449e"/><stop offset="0.57907" stop-color="#2f3492"/><stop offset="0.59962" stop-color="#2f3492"/><stop offset="0.60188" stop-color="#3a4ea2"/><stop offset="0.61491" stop-color="#3a4ea2"/><stop offset="0.61717" stop-color="#34449e"/><stop offset="0.63371" stop-color="#34449e"/><stop offset="0.63596" stop-color="#2e3190"/><stop offset="0.68308" stop-color="#2e3190"/><stop offset="0.68534" stop-color="#333c97"/><stop offset="0.69436" stop-color="#333c97"/><stop offset="0.69662" stop-color="#2e3190"/><stop offset="0.71316" stop-color="#2e3190"/><stop offset="0.71541" stop-color="#34449e"/><stop offset="0.72469" stop-color="#34449e"/><stop offset="0.72694" stop-color="#2e3190"/><stop offset="0.81917" stop-color="#2e3190"/><stop offset="0.82143" stop-color="#3a52a6"/><stop offset="0.83070" stop-color="#3a52a6"/><stop offset="0.83296" stop-color="#2f3492"/><stop offset="0.84950" stop-color="#2f3492"/><stop offset="0.85175" stop-color="#3a4ea2"/><stop offset="0.86479" stop-color="#3a4ea2"/><stop offset="0.86704" stop-color="#333c97"/><stop offset="0.87982" stop-color="#333c97"/><stop offset="0.88208" stop-color="#3a52a6"/><stop offset="0.89511" stop-color="#3a52a6"/><stop offset="0.89737" stop-color="#34449e"/><stop offset="0.90639" stop-color="#34449e"/><stop offset="0.90865" stop-color="#3a4ea2"/><stop offset="0.92143" stop-color="#3a4ea2"/><stop offset="0.92368" stop-color="#34449e"/><stop offset="0.93296" stop-color="#34449e"/><stop offset="0.93521" stop-color="#3a52a6"/><stop offset="0.94649" stop-color="#3a52a6"/><stop offset="0.94875" stop-color="#4a90d0"/><stop offset="0.95175" stop-color="#4a90d0"/><stop offset="0.95401" stop-color="#34449e"/><stop offset="0.95952" stop-color="#34449e"/><stop offset="0.96178" stop-color="#3a56a8"/><stop offset="0.96704" stop-color="#3a56a8"/><stop offset="0.96930" stop-color="#3f6db5"/><stop offset="0.97832" stop-color="#3f6db5"/><stop offset="0.98058" stop-color="#35449e"/><stop offset="0.98584" stop-color="#35449e"/><stop offset="0.98810" stop-color="#4ea6dc"/><stop offset="0.99361" stop-color="#4ea6dc"/><stop offset="0.99586" stop-color="#34449e"/><stop offset="0.99887" stop-color="#34449e"/></linearGradient><linearGradient id="hr2" gradientUnits="userSpaceOnUse" x1="158.6" y1="0" x2="557.6" y2="0"><stop offset="0.00000" stop-color="#3a4fa3"/><stop offset="0.01642" stop-color="#3a4fa3"/><stop offset="0.01867" stop-color="#4a8fd0"/><stop offset="0.02018" stop-color="#4a8fd0"/><stop offset="0.02243" stop-color="#3a56a8"/><stop offset="0.02945" stop-color="#3a56a8"/><stop offset="0.03170" stop-color="#3f6db5"/><stop offset="0.03321" stop-color="#3f6db5"/><stop offset="0.03546" stop-color="#3a4ca2"/><stop offset="0.04799" stop-color="#3a4ca2"/><stop offset="0.05025" stop-color="#4a90d0"/><stop offset="0.05351" stop-color="#4a90d0"/><stop offset="0.05576" stop-color="#3a4ea2"/><stop offset="0.08158" stop-color="#3a4ea2"/><stop offset="0.08383" stop-color="#3f6cb5"/><stop offset="0.08709" stop-color="#3f6cb5"/><stop offset="0.08935" stop-color="#3a4aa0"/><stop offset="0.11867" stop-color="#3a4aa0"/><stop offset="0.12093" stop-color="#4f9fd8"/><stop offset="0.12594" stop-color="#4f9fd8"/><stop offset="0.12820" stop-color="#3a5fad"/><stop offset="0.12970" stop-color="#3a5fad"/><stop offset="0.13195" stop-color="#55b8d8"/><stop offset="0.14273" stop-color="#55b8d8"/><stop offset="0.14499" stop-color="#3a50a4"/><stop offset="0.15952" stop-color="#3a50a4"/><stop offset="0.16178" stop-color="#3a5aa8"/><stop offset="0.16679" stop-color="#3a5aa8"/><stop offset="0.16905" stop-color="#3a4ca2"/><stop offset="0.19461" stop-color="#3a4ca2"/><stop offset="0.19687" stop-color="#3f6db5"/><stop offset="0.20038" stop-color="#3f6db5"/><stop offset="0.20263" stop-color="#3a50a4"/><stop offset="0.21892" stop-color="#3a50a4"/><stop offset="0.22118" stop-color="#3a5aa8"/><stop offset="0.23070" stop-color="#3a5aa8"/><stop offset="0.23296" stop-color="#3a46a0"/><stop offset="0.23797" stop-color="#3a46a0"/><stop offset="0.24023" stop-color="#35409c"/><stop offset="0.25276" stop-color="#35409c"/><stop offset="0.25501" stop-color="#3a56a8"/><stop offset="0.27331" stop-color="#3a56a8"/><stop offset="0.27556" stop-color="#4da8dc"/><stop offset="0.27882" stop-color="#4da8dc"/><stop offset="0.28108" stop-color="#3a4ea2"/><stop offset="0.29361" stop-color="#3a4ea2"/><stop offset="0.29586" stop-color="#3a5aa8"/><stop offset="0.30489" stop-color="#3a5aa8"/><stop offset="0.30714" stop-color="#34449e"/><stop offset="0.32343" stop-color="#34449e"/><stop offset="0.32569" stop-color="#3a56a8"/><stop offset="0.34925" stop-color="#3a56a8"/><stop offset="0.35150" stop-color="#3a5aa8"/><stop offset="0.37531" stop-color="#3a5aa8"/><stop offset="0.37757" stop-color="#3f6cb5"/><stop offset="0.38659" stop-color="#3f6cb5"/><stop offset="0.38885" stop-color="#4ca5da"/><stop offset="0.39386" stop-color="#4ca5da"/><stop offset="0.39612" stop-color="#33409c"/><stop offset="0.41241" stop-color="#33409c"/><stop offset="0.41466" stop-color="#3a4ea2"/><stop offset="0.43847" stop-color="#3a4ea2"/><stop offset="0.44073" stop-color="#3a5aa8"/><stop offset="0.44599" stop-color="#3a5aa8"/><stop offset="0.44825" stop-color="#3a4ca2"/><stop offset="0.48358" stop-color="#3a4ca2"/><stop offset="0.48584" stop-color="#34449e"/><stop offset="0.50865" stop-color="#34449e"/><stop offset="0.51090" stop-color="#2f3492"/><stop offset="0.52769" stop-color="#2f3492"/><stop offset="0.52995" stop-color="#34449e"/><stop offset="0.54273" stop-color="#34449e"/><stop offset="0.54499" stop-color="#3a56a8"/><stop offset="0.55050" stop-color="#3a56a8"/><stop offset="0.55276" stop-color="#55b8d8"/><stop offset="0.56178" stop-color="#55b8d8"/><stop offset="0.56404" stop-color="#3a56a8"/><stop offset="0.56930" stop-color="#3a56a8"/><stop offset="0.57155" stop-color="#34449e"/><stop offset="0.58835" stop-color="#34449e"/><stop offset="0.59060" stop-color="#2f3492"/><stop offset="0.60714" stop-color="#2f3492"/><stop offset="0.60940" stop-color="#3a4ea2"/><stop offset="0.62243" stop-color="#3a4ea2"/><stop offset="0.62469" stop-color="#2f3492"/><stop offset="0.63371" stop-color="#2f3492"/><stop offset="0.63596" stop-color="#34449e"/><stop offset="0.65276" stop-color="#34449e"/><stop offset="0.65501" stop-color="#2f3492"/><stop offset="0.68684" stop-color="#2f3492"/><stop offset="0.68910" stop-color="#3a4ea2"/><stop offset="0.69812" stop-color="#3a4ea2"/><stop offset="0.70038" stop-color="#34449e"/><stop offset="0.72093" stop-color="#34449e"/><stop offset="0.72318" stop-color="#3a56a8"/><stop offset="0.73221" stop-color="#3a56a8"/><stop offset="0.73446" stop-color="#3f6cb5"/><stop offset="0.74348" stop-color="#3f6cb5"/><stop offset="0.74574" stop-color="#34449e"/><stop offset="0.76253" stop-color="#34449e"/><stop offset="0.76479" stop-color="#2f3492"/><stop offset="0.77757" stop-color="#2f3492"/><stop offset="0.77982" stop-color="#3a56a8"/><stop offset="0.78534" stop-color="#3a56a8"/><stop offset="0.78759" stop-color="#34449e"/><stop offset="0.79662" stop-color="#34449e"/><stop offset="0.79887" stop-color="#3a56a8"/><stop offset="0.80414" stop-color="#3a56a8"/><stop offset="0.80639" stop-color="#2f3492"/><stop offset="0.81165" stop-color="#2f3492"/><stop offset="0.81391" stop-color="#3a52a6"/><stop offset="0.82318" stop-color="#3a52a6"/><stop offset="0.82544" stop-color="#34449e"/><stop offset="0.83822" stop-color="#34449e"/><stop offset="0.84048" stop-color="#3a56a8"/><stop offset="0.85326" stop-color="#3a56a8"/><stop offset="0.85551" stop-color="#2e3190"/><stop offset="0.91767" stop-color="#2e3190"/><stop offset="0.91992" stop-color="#3a4ea2"/><stop offset="0.93296" stop-color="#3a4ea2"/><stop offset="0.93521" stop-color="#34449e"/><stop offset="0.94799" stop-color="#34449e"/><stop offset="0.95025" stop-color="#3a4ea2"/><stop offset="0.96328" stop-color="#3a4ea2"/><stop offset="0.96554" stop-color="#34449e"/><stop offset="0.97832" stop-color="#34449e"/><stop offset="0.98058" stop-color="#33409c"/><stop offset="0.99887" stop-color="#33409c"/></linearGradient><linearGradient id="hr3" gradientUnits="userSpaceOnUse" x1="158.6" y1="0" x2="557.6" y2="0"><stop offset="0.00000" stop-color="#fbc412"/><stop offset="0.01266" stop-color="#fbc412"/><stop offset="0.01491" stop-color="#b8cf31"/><stop offset="0.02018" stop-color="#b8cf31"/><stop offset="0.02243" stop-color="#5fbcb0"/><stop offset="0.04073" stop-color="#5fbcb0"/><stop offset="0.04298" stop-color="#b0cd36"/><stop offset="0.05175" stop-color="#b0cd36"/><stop offset="0.05401" stop-color="#f3d91a"/><stop offset="0.05727" stop-color="#f3d91a"/><stop offset="0.05952" stop-color="#f39a1f"/><stop offset="0.06278" stop-color="#f39a1f"/><stop offset="0.06504" stop-color="#7e1516"/><stop offset="0.07782" stop-color="#7e1516"/><stop offset="0.08008" stop-color="#f28c21"/><stop offset="0.08333" stop-color="#f28c21"/><stop offset="0.08559" stop-color="#ec5b27"/><stop offset="0.08960" stop-color="#ec5b27"/><stop offset="0.09185" stop-color="#e02726"/><stop offset="0.10188" stop-color="#e02726"/><stop offset="0.10414" stop-color="#f39a1f"/><stop offset="0.10564" stop-color="#f39a1f"/><stop offset="0.10789" stop-color="#a6ca3f"/><stop offset="0.11491" stop-color="#a6ca3f"/><stop offset="0.11717" stop-color="#4aa3d8"/><stop offset="0.12419" stop-color="#4aa3d8"/><stop offset="0.12644" stop-color="#3a6db5"/><stop offset="0.13170" stop-color="#3a6db5"/><stop offset="0.13396" stop-color="#34449e"/><stop offset="0.15576" stop-color="#34449e"/><stop offset="0.15802" stop-color="#f2d91b"/><stop offset="0.16303" stop-color="#f2d91b"/><stop offset="0.16529" stop-color="#b8cf31"/><stop offset="0.16880" stop-color="#b8cf31"/><stop offset="0.17105" stop-color="#e32a26"/><stop offset="0.17807" stop-color="#e32a26"/><stop offset="0.18033" stop-color="#ee6a25"/><stop offset="0.18183" stop-color="#ee6a25"/><stop offset="0.18409" stop-color="#e22526"/><stop offset="0.19837" stop-color="#e22526"/><stop offset="0.20063" stop-color="#f7d614"/><stop offset="0.20589" stop-color="#f7d614"/><stop offset="0.20815" stop-color="#a8cb3d"/><stop offset="0.21516" stop-color="#a8cb3d"/><stop offset="0.21742" stop-color="#3f8ac9"/><stop offset="0.22444" stop-color="#3f8ac9"/><stop offset="0.22669" stop-color="#52b4dc"/><stop offset="0.23195" stop-color="#52b4dc"/><stop offset="0.23421" stop-color="#3a5aa8"/><stop offset="0.23797" stop-color="#3a5aa8"/><stop offset="0.24023" stop-color="#3a50a4"/><stop offset="0.24900" stop-color="#3a50a4"/><stop offset="0.25125" stop-color="#3a5fad"/><stop offset="0.25827" stop-color="#3a5fad"/><stop offset="0.26053" stop-color="#333b95"/><stop offset="0.30840" stop-color="#333b95"/><stop offset="0.31065" stop-color="#3a56a8"/><stop offset="0.31792" stop-color="#3a56a8"/><stop offset="0.32018" stop-color="#343f9a"/><stop offset="0.32719" stop-color="#343f9a"/><stop offset="0.32945" stop-color="#32368f"/><stop offset="0.38659" stop-color="#32368f"/><stop offset="0.38885" stop-color="#3a4ea2"/><stop offset="0.39762" stop-color="#3a4ea2"/><stop offset="0.39987" stop-color="#343f9a"/><stop offset="0.41617" stop-color="#343f9a"/><stop offset="0.41842" stop-color="#3a5aa8"/><stop offset="0.42368" stop-color="#3a5aa8"/><stop offset="0.42594" stop-color="#3a4ea2"/><stop offset="0.43847" stop-color="#3a4ea2"/><stop offset="0.44073" stop-color="#3f6cb5"/><stop offset="0.44599" stop-color="#3f6cb5"/><stop offset="0.44825" stop-color="#3a56a8"/><stop offset="0.45702" stop-color="#3a56a8"/><stop offset="0.45927" stop-color="#3f6cb5"/><stop offset="0.46454" stop-color="#3f6cb5"/><stop offset="0.46679" stop-color="#3a52a6"/><stop offset="0.47556" stop-color="#3a52a6"/><stop offset="0.47782" stop-color="#3f6cb5"/><stop offset="0.48358" stop-color="#3f6cb5"/><stop offset="0.48584" stop-color="#3a5aa8"/><stop offset="0.49110" stop-color="#3a5aa8"/><stop offset="0.49336" stop-color="#52b5de"/><stop offset="0.50038" stop-color="#52b5de"/><stop offset="0.50263" stop-color="#5fbcc0"/><stop offset="0.50965" stop-color="#5fbcc0"/><stop offset="0.51190" stop-color="#3a4aa0"/><stop offset="0.51892" stop-color="#3a4aa0"/><stop offset="0.52118" stop-color="#64bca4"/><stop offset="0.53922" stop-color="#64bca4"/><stop offset="0.54148" stop-color="#4fb0dc"/><stop offset="0.54674" stop-color="#4fb0dc"/><stop offset="0.54900" stop-color="#c5d42c"/><stop offset="0.55226" stop-color="#c5d42c"/><stop offset="0.55451" stop-color="#f28c21"/><stop offset="0.55777" stop-color="#f28c21"/><stop offset="0.56003" stop-color="#d53f22"/><stop offset="0.56353" stop-color="#d53f22"/><stop offset="0.56579" stop-color="#f7c812"/><stop offset="0.57080" stop-color="#f7c812"/><stop offset="0.57306" stop-color="#8ec556"/><stop offset="0.58008" stop-color="#8ec556"/><stop offset="0.58233" stop-color="#62bbac"/><stop offset="0.58935" stop-color="#62bbac"/><stop offset="0.59160" stop-color="#c0d22d"/><stop offset="0.59862" stop-color="#c0d22d"/><stop offset="0.60088" stop-color="#76bf7c"/><stop offset="0.60990" stop-color="#76bf7c"/><stop offset="0.61216" stop-color="#ee6e26"/><stop offset="0.61717" stop-color="#ee6e26"/><stop offset="0.61942" stop-color="#f6c116"/><stop offset="0.62293" stop-color="#f6c116"/><stop offset="0.62519" stop-color="#e2442a"/><stop offset="0.63020" stop-color="#e2442a"/><stop offset="0.63246" stop-color="#b8cf31"/><stop offset="0.63947" stop-color="#b8cf31"/><stop offset="0.64173" stop-color="#70be88"/><stop offset="0.66930" stop-color="#70be88"/><stop offset="0.67155" stop-color="#f9d812"/><stop offset="0.69160" stop-color="#f9d812"/><stop offset="0.69386" stop-color="#f39a1f"/><stop offset="0.69712" stop-color="#f39a1f"/><stop offset="0.69937" stop-color="#8a1616"/><stop offset="0.70263" stop-color="#8a1616"/><stop offset="0.70489" stop-color="#e02826"/><stop offset="0.71391" stop-color="#e02826"/><stop offset="0.71617" stop-color="#f4a11d"/><stop offset="0.72318" stop-color="#f4a11d"/><stop offset="0.72544" stop-color="#e22a26"/><stop offset="0.73421" stop-color="#e22a26"/><stop offset="0.73647" stop-color="#e02826"/><stop offset="0.74348" stop-color="#e02826"/><stop offset="0.74574" stop-color="#861515"/><stop offset="0.75576" stop-color="#861515"/><stop offset="0.75802" stop-color="#cf2224"/><stop offset="0.76404" stop-color="#cf2224"/><stop offset="0.76629" stop-color="#f39a1f"/><stop offset="0.76930" stop-color="#f39a1f"/><stop offset="0.77155" stop-color="#f8cc12"/><stop offset="0.77932" stop-color="#f8cc12"/><stop offset="0.78158" stop-color="#f39a1f"/><stop offset="0.78434" stop-color="#f39a1f"/><stop offset="0.78659" stop-color="#7e1414"/><stop offset="0.80263" stop-color="#7e1414"/><stop offset="0.80489" stop-color="#e02826"/><stop offset="0.82318" stop-color="#e02826"/><stop offset="0.82544" stop-color="#f9d511"/><stop offset="0.83947" stop-color="#f9d511"/><stop offset="0.84173" stop-color="#f08a22"/><stop offset="0.84975" stop-color="#f08a22"/><stop offset="0.85201" stop-color="#b0cd36"/><stop offset="0.86203" stop-color="#b0cd36"/><stop offset="0.86429" stop-color="#9ac74c"/><stop offset="0.87431" stop-color="#9ac74c"/><stop offset="0.87657" stop-color="#7fc172"/><stop offset="0.88634" stop-color="#7fc172"/><stop offset="0.88860" stop-color="#a8cb3c"/><stop offset="0.89060" stop-color="#a8cb3c"/><stop offset="0.89286" stop-color="#55b6d4"/><stop offset="0.90063" stop-color="#55b6d4"/><stop offset="0.90288" stop-color="#65bca6"/><stop offset="0.92519" stop-color="#65bca6"/><stop offset="0.92744" stop-color="#4ca6da"/><stop offset="0.93346" stop-color="#4ca6da"/><stop offset="0.93571" stop-color="#3a5aa8"/><stop offset="0.94975" stop-color="#3a5aa8"/><stop offset="0.95201" stop-color="#3a52a6"/><stop offset="0.96604" stop-color="#3a52a6"/><stop offset="0.96830" stop-color="#34409c"/><stop offset="0.98233" stop-color="#34409c"/><stop offset="0.98459" stop-color="#30308e"/><stop offset="0.99887" stop-color="#30308e"/></linearGradient><linearGradient id="hr4" gradientUnits="userSpaceOnUse" x1="158.6" y1="0" x2="557.6" y2="0"><stop offset="0.00000" stop-color="#333d98"/><stop offset="0.02995" stop-color="#333d98"/><stop offset="0.03221" stop-color="#34449e"/><stop offset="0.06278" stop-color="#34449e"/><stop offset="0.06504" stop-color="#3a55a6"/><stop offset="0.08709" stop-color="#3a55a6"/><stop offset="0.08935" stop-color="#4fb0dd"/><stop offset="0.09085" stop-color="#4fb0dd"/><stop offset="0.09311" stop-color="#f6d815"/><stop offset="0.09637" stop-color="#f6d815"/><stop offset="0.09862" stop-color="#f28e22"/><stop offset="0.10013" stop-color="#f28e22"/><stop offset="0.10238" stop-color="#e02726"/><stop offset="0.10739" stop-color="#e02726"/><stop offset="0.10965" stop-color="#700f0f"/><stop offset="0.50388" stop-color="#700f0f"/><stop offset="0.50614" stop-color="#b01c1e"/><stop offset="0.50764" stop-color="#b01c1e"/><stop offset="0.50990" stop-color="#700f0f"/><stop offset="0.55777" stop-color="#700f0f"/><stop offset="0.56003" stop-color="#c01e20"/><stop offset="0.56153" stop-color="#c01e20"/><stop offset="0.56378" stop-color="#700f0f"/><stop offset="0.96003" stop-color="#700f0f"/><stop offset="0.96228" stop-color="#f7b617"/><stop offset="0.96404" stop-color="#f7b617"/><stop offset="0.96629" stop-color="#6cbf96"/><stop offset="0.97030" stop-color="#6cbf96"/><stop offset="0.97256" stop-color="#4ca6da"/><stop offset="0.97832" stop-color="#4ca6da"/><stop offset="0.98058" stop-color="#3a5aa8"/><stop offset="0.98659" stop-color="#3a5aa8"/><stop offset="0.98885" stop-color="#30308e"/><stop offset="0.99887" stop-color="#30308e"/></linearGradient></defs>
<rect x="158.6" y="1158.00" width="399.0" height="73.20" fill="url(#hr0)"/>
<rect x="158.6" y="1230.20" width="399.0" height="73.20" fill="url(#hr1)"/>
<rect x="158.6" y="1302.40" width="399.0" height="73.20" fill="url(#hr2)"/>
<rect x="158.6" y="1374.60" width="399.0" height="73.20" fill="url(#hr3)"/>
<rect x="158.6" y="1446.80" width="399.0" height="72.20" fill="url(#hr4)"/>
<rect x="158.6" y="1158" width="399.0" height="361" fill="none" stroke="#2a2a3a" stroke-width="1"/>
<g stroke="#222" stroke-width="1">
<line x1="208.5" y1="1158" x2="208.5" y2="1162"/>
<line x1="258.4" y1="1158" x2="258.4" y2="1162"/>
<line x1="308.2" y1="1158" x2="308.2" y2="1162"/>
<line x1="358.1" y1="1158" x2="358.1" y2="1162"/>
<line x1="408.0" y1="1158" x2="408.0" y2="1162"/>
<line x1="457.9" y1="1158" x2="457.9" y2="1162"/>
<line x1="507.7" y1="1158" x2="507.7" y2="1162"/>
</g>
<defs><linearGradient id="cbg" gradientUnits="userSpaceOnUse" x1="0" y1="1158.3" x2="0" y2="1519"><stop offset="0.00000" stop-color="rgb(122,19,20)"/><stop offset="0.01452" stop-color="rgb(122,19,20)"/><stop offset="0.01673" stop-color="rgb(140,22,23)"/><stop offset="0.03014" stop-color="rgb(140,22,23)"/><stop offset="0.03236" stop-color="rgb(156,24,27)"/><stop offset="0.04577" stop-color="rgb(156,24,27)"/><stop offset="0.04798" stop-color="rgb(171,26,30)"/><stop offset="0.06139" stop-color="rgb(171,26,30)"/><stop offset="0.06361" stop-color="rgb(185,28,33)"/><stop offset="0.07702" stop-color="rgb(185,28,33)"/><stop offset="0.07923" stop-color="rgb(198,29,35)"/><stop offset="0.09264" stop-color="rgb(198,29,35)"/><stop offset="0.09486" stop-color="rgb(212,31,38)"/><stop offset="0.10827" stop-color="rgb(212,31,38)"/><stop offset="0.11048" stop-color="rgb(217,32,38)"/><stop offset="0.12389" stop-color="rgb(217,32,38)"/><stop offset="0.12611" stop-color="rgb(222,33,39)"/><stop offset="0.13952" stop-color="rgb(222,33,39)"/><stop offset="0.14173" stop-color="rgb(225,36,39)"/><stop offset="0.15514" stop-color="rgb(225,36,39)"/><stop offset="0.15736" stop-color="rgb(226,41,40)"/><stop offset="0.17077" stop-color="rgb(226,41,40)"/><stop offset="0.17298" stop-color="rgb(227,46,42)"/><stop offset="0.18639" stop-color="rgb(227,46,42)"/><stop offset="0.18861" stop-color="rgb(228,57,42)"/><stop offset="0.20202" stop-color="rgb(228,57,42)"/><stop offset="0.20423" stop-color="rgb(229,71,42)"/><stop offset="0.21764" stop-color="rgb(229,71,42)"/><stop offset="0.21986" stop-color="rgb(233,91,40)"/><stop offset="0.23327" stop-color="rgb(233,91,40)"/><stop offset="0.23548" stop-color="rgb(236,111,38)"/><stop offset="0.24889" stop-color="rgb(236,111,38)"/><stop offset="0.25111" stop-color="rgb(240,130,35)"/><stop offset="0.26452" stop-color="rgb(240,130,35)"/><stop offset="0.26673" stop-color="rgb(243,148,31)"/><stop offset="0.28014" stop-color="rgb(243,148,31)"/><stop offset="0.28236" stop-color="rgb(247,166,26)"/><stop offset="0.29577" stop-color="rgb(247,166,26)"/><stop offset="0.29798" stop-color="rgb(249,182,21)"/><stop offset="0.31139" stop-color="rgb(249,182,21)"/><stop offset="0.31361" stop-color="rgb(252,196,16)"/><stop offset="0.32702" stop-color="rgb(252,196,16)"/><stop offset="0.32923" stop-color="rgb(250,210,18)"/><stop offset="0.34264" stop-color="rgb(250,210,18)"/><stop offset="0.34486" stop-color="rgb(247,224,22)"/><stop offset="0.35827" stop-color="rgb(247,224,22)"/><stop offset="0.36048" stop-color="rgb(234,223,29)"/><stop offset="0.37389" stop-color="rgb(234,223,29)"/><stop offset="0.37611" stop-color="rgb(220,221,35)"/><stop offset="0.38952" stop-color="rgb(220,221,35)"/><stop offset="0.39173" stop-color="rgb(204,215,41)"/><stop offset="0.40514" stop-color="rgb(204,215,41)"/><stop offset="0.40736" stop-color="rgb(191,210,46)"/><stop offset="0.42077" stop-color="rgb(191,210,46)"/><stop offset="0.42298" stop-color="rgb(181,206,51)"/><stop offset="0.43639" stop-color="rgb(181,206,51)"/><stop offset="0.43861" stop-color="rgb(170,203,55)"/><stop offset="0.45202" stop-color="rgb(170,203,55)"/><stop offset="0.45423" stop-color="rgb(161,200,63)"/><stop offset="0.46764" stop-color="rgb(161,200,63)"/><stop offset="0.46986" stop-color="rgb(152,198,72)"/><stop offset="0.48327" stop-color="rgb(152,198,72)"/><stop offset="0.48548" stop-color="rgb(142,196,81)"/><stop offset="0.49889" stop-color="rgb(142,196,81)"/><stop offset="0.50111" stop-color="rgb(128,192,98)"/><stop offset="0.51452" stop-color="rgb(128,192,98)"/><stop offset="0.51673" stop-color="rgb(117,189,114)"/><stop offset="0.53014" stop-color="rgb(117,189,114)"/><stop offset="0.53236" stop-color="rgb(108,187,131)"/><stop offset="0.54577" stop-color="rgb(108,187,131)"/><stop offset="0.54798" stop-color="rgb(101,185,146)"/><stop offset="0.56139" stop-color="rgb(101,185,146)"/><stop offset="0.56361" stop-color="rgb(95,184,161)"/><stop offset="0.57702" stop-color="rgb(95,184,161)"/><stop offset="0.57923" stop-color="rgb(92,184,173)"/><stop offset="0.59264" stop-color="rgb(92,184,173)"/><stop offset="0.59486" stop-color="rgb(89,184,185)"/><stop offset="0.60827" stop-color="rgb(89,184,185)"/><stop offset="0.61048" stop-color="rgb(85,183,199)"/><stop offset="0.62389" stop-color="rgb(85,183,199)"/><stop offset="0.62611" stop-color="rgb(82,183,212)"/><stop offset="0.63952" stop-color="rgb(82,183,212)"/><stop offset="0.64173" stop-color="rgb(79,182,220)"/><stop offset="0.65514" stop-color="rgb(79,182,220)"/><stop offset="0.65736" stop-color="rgb(75,178,223)"/><stop offset="0.67077" stop-color="rgb(75,178,223)"/><stop offset="0.67298" stop-color="rgb(72,172,221)"/><stop offset="0.68639" stop-color="rgb(72,172,221)"/><stop offset="0.68861" stop-color="rgb(67,157,212)"/><stop offset="0.70202" stop-color="rgb(67,157,212)"/><stop offset="0.70423" stop-color="rgb(62,139,201)"/><stop offset="0.71764" stop-color="rgb(62,139,201)"/><stop offset="0.71986" stop-color="rgb(60,124,191)"/><stop offset="0.73327" stop-color="rgb(60,124,191)"/><stop offset="0.73548" stop-color="rgb(58,110,183)"/><stop offset="0.74889" stop-color="rgb(58,110,183)"/><stop offset="0.75111" stop-color="rgb(58,101,175)"/><stop offset="0.76452" stop-color="rgb(58,101,175)"/><stop offset="0.76673" stop-color="rgb(58,93,170)"/><stop offset="0.78014" stop-color="rgb(58,93,170)"/><stop offset="0.78236" stop-color="rgb(58,88,167)"/><stop offset="0.79577" stop-color="rgb(58,88,167)"/><stop offset="0.79798" stop-color="rgb(58,82,164)"/><stop offset="0.81139" stop-color="rgb(58,82,164)"/><stop offset="0.81361" stop-color="rgb(58,79,162)"/><stop offset="0.82702" stop-color="rgb(58,79,162)"/><stop offset="0.82923" stop-color="rgb(58,76,160)"/><stop offset="0.84264" stop-color="rgb(58,76,160)"/><stop offset="0.84486" stop-color="rgb(58,72,158)"/><stop offset="0.85827" stop-color="rgb(58,72,158)"/><stop offset="0.86048" stop-color="rgb(58,70,157)"/><stop offset="0.87389" stop-color="rgb(58,70,157)"/><stop offset="0.87611" stop-color="rgb(58,68,156)"/><stop offset="0.88952" stop-color="rgb(58,68,156)"/><stop offset="0.89173" stop-color="rgb(57,66,155)"/><stop offset="0.90514" stop-color="rgb(57,66,155)"/><stop offset="0.90736" stop-color="rgb(57,64,153)"/><stop offset="0.92077" stop-color="rgb(57,64,153)"/><stop offset="0.92298" stop-color="rgb(56,60,151)"/><stop offset="0.93639" stop-color="rgb(56,60,151)"/><stop offset="0.93861" stop-color="rgb(55,54,147)"/><stop offset="0.95202" stop-color="rgb(55,54,147)"/><stop offset="0.95423" stop-color="rgb(53,49,143)"/><stop offset="0.96764" stop-color="rgb(53,49,143)"/><stop offset="0.96986" stop-color="rgb(50,46,140)"/><stop offset="0.98327" stop-color="rgb(50,46,140)"/><stop offset="0.98548" stop-color="rgb(47,43,137)"/><stop offset="1.00000" stop-color="rgb(47,43,137)"/></linearGradient></defs>
<rect x="577.2" y="1158.3" width="29.0" height="360.70000000000005" fill="url(#cbg)"/>
<rect x="577.2" y="1158.3" width="29.0" height="360.70000000000005" fill="none" stroke="#3a3a3a" stroke-width="0.8"/>
<g stroke="#333" stroke-width="1">
<line x1="602.2" y1="1496.8" x2="606.2" y2="1496.8"/>
<line x1="602.2" y1="1384.0" x2="606.2" y2="1384.0"/>
<line x1="602.2" y1="1271.3" x2="606.2" y2="1271.3"/>
</g>
<text transform="translate(611.79,1164.17) scale(0.9539,1)" font-family="Liberation Sans" font-weight="bold" font-style="normal" font-size="22.71" fill="#1a1a1a" stroke="#1a1a1a" stroke-width="0.40" stroke-linejoin="round">15</text>
<text transform="translate(611.55,1278.08) scale(0.9953,1)" font-family="Liberation Sans" font-weight="bold" font-style="normal" font-size="22.39" fill="#1a1a1a" stroke="#1a1a1a" stroke-width="0.40" stroke-linejoin="round">10</text>
<text transform="translate(617.88,1392.07) scale(0.9157,1)" font-family="Liberation Sans" font-weight="bold" font-style="normal" font-size="22.71" fill="#1a1a1a" stroke="#1a1a1a" stroke-width="0.40" stroke-linejoin="round">5</text>
<text transform="translate(617.67,1505.88) scale(0.9307,1)" font-family="Liberation Sans" font-weight="bold" font-style="normal" font-size="22.39" fill="#1a1a1a" stroke="#1a1a1a" stroke-width="0.40" stroke-linejoin="round">0</text>
<text transform="translate(59.04,1207.00) scale(0.9929,1)" font-family="Liberation Sans" font-weight="bold" font-style="normal" font-size="33.48" fill="#1a1a1a" stroke="#1a1a1a" stroke-width="0.60" stroke-linejoin="round">L1:L2</text>
<text transform="translate(59.03,1282.60) scale(0.9980,1)" font-family="Liberation Sans" font-weight="bold" font-style="normal" font-size="33.48" fill="#1a1a1a" stroke="#1a1a1a" stroke-width="0.60" stroke-linejoin="round">L2:L3</text>
<text transform="translate(59.06,1351.90) scale(0.9830,1)" font-family="Liberation Sans" font-weight="bold" font-style="normal" font-size="33.48" fill="#1a1a1a" stroke="#1a1a1a" stroke-width="0.60" stroke-linejoin="round">L3:L4</text>
<text transform="translate(59.13,1427.00) scale(0.9501,1)" font-family="Liberation Sans" font-weight="bold" font-style="normal" font-size="33.48" fill="#1a1a1a" stroke="#1a1a1a" stroke-width="0.60" stroke-linejoin="round">L4:D1</text>
<text transform="translate(59.04,1496.80) scale(0.9921,1)" font-family="Liberation Sans" font-weight="bold" font-style="normal" font-size="33.48" fill="#1a1a1a" stroke="#1a1a1a" stroke-width="0.60" stroke-linejoin="round">D1:D2</text>
<text transform="translate(154.47,1542.68) scale(0.9213,1)" font-family="Liberation Sans" font-weight="bold" font-style="normal" font-size="22.39" fill="#1a1a1a" stroke="#1a1a1a" stroke-width="0.40" stroke-linejoin="round">0</text>
<text transform="translate(248.31,1542.68) scale(1.0037,1)" font-family="Liberation Sans" font-weight="bold" font-style="normal" font-size="22.39" fill="#1a1a1a" stroke="#1a1a1a" stroke-width="0.40" stroke-linejoin="round">25</text>
<text transform="translate(347.12,1542.68) scale(1.0090,1)" font-family="Liberation Sans" font-weight="bold" font-style="normal" font-size="22.39" fill="#1a1a1a" stroke="#1a1a1a" stroke-width="0.40" stroke-linejoin="round">50</text>
<text transform="translate(446.34,1542.67) scale(0.9440,1)" font-family="Liberation Sans" font-weight="bold" font-style="normal" font-size="22.71" fill="#1a1a1a" stroke="#1a1a1a" stroke-width="0.40" stroke-linejoin="round">75</text>
<text transform="translate(534.60,1542.68) scale(0.9618,1)" font-family="Liberation Sans" font-weight="bold" font-style="normal" font-size="22.39" fill="#1a1a1a" stroke="#1a1a1a" stroke-width="0.40" stroke-linejoin="round">100</text>
<text transform="translate(161.06,1576.65) scale(0.9924,1)" font-family="Liberation Sans" font-weight="bold" font-style="normal" font-size="33.91" fill="#1a1a1a" stroke="#1a1a1a" stroke-width="0.30" stroke-linejoin="round">Percentage of Length (%)</text>
<defs><clipPath id="wc"><path d="M161.8,1104.6 C163,1098 172,1091 182,1089 C195,1087 208,1091 222,1097 C235,1103 245,1108 257,1110 C280,1111 300,1108 320,1102 C340,1095 360,1089 378,1090 C400,1091 418,1098 432,1105 C445,1111 452,1116 462,1117 C480,1119 505,1120 522,1115 C535,1111 545,1108 552.5,1106.6 C548,1112 538,1119 530,1124 C515,1133 490,1139 462,1138 C440,1138 425,1128 410,1123 C395,1120 385,1120 370,1121 C345,1124 320,1135 300,1139 C285,1142 270,1141 257,1140.5 C245,1139 232,1132 220,1125 C205,1116 195,1108 182,1107 C172,1106 165,1107 161.8,1104.6 Z"/></clipPath></defs>
<path d="M161.8,1104.6 C163,1098 172,1091 182,1089 C195,1087 208,1091 222,1097 C235,1103 245,1108 257,1110 C280,1111 300,1108 320,1102 C340,1095 360,1089 378,1090 C400,1091 418,1098 432,1105 C445,1111 452,1116 462,1117 C480,1119 505,1120 522,1115 C535,1111 545,1108 552.5,1106.6 C548,1112 538,1119 530,1124 C515,1133 490,1139 462,1138 C440,1138 425,1128 410,1123 C395,1120 385,1120 370,1121 C345,1124 320,1135 300,1139 C285,1142 270,1141 257,1140.5 C245,1139 232,1132 220,1125 C205,1116 195,1108 182,1107 C172,1106 165,1107 161.8,1104.6 Z" fill="#fff"/>
<g clip-path="url(#wc)"><rect x="257" y="1080" width="205" height="70" fill="#8a8a8a"/><rect x="462" y="1080" width="100" height="70" fill="#3a3a3a"/></g>
<g stroke="#000" stroke-width="5"><line x1="257.3" y1="1108" x2="257.3" y2="1142"/><line x1="460.5" y1="1114" x2="460.5" y2="1139"/></g>
<path d="M161.8,1104.6 C163,1098 172,1091 182,1089 C195,1087 208,1091 222,1097 C235,1103 245,1108 257,1110 C280,1111 300,1108 320,1102 C340,1095 360,1089 378,1090 C400,1091 418,1098 432,1105 C445,1111 452,1116 462,1117 C480,1119 505,1120 522,1115 C535,1111 545,1108 552.5,1106.6 C548,1112 538,1119 530,1124 C515,1133 490,1139 462,1138 C440,1138 425,1128 410,1123 C395,1120 385,1120 370,1121 C345,1124 320,1135 300,1139 C285,1142 270,1141 257,1140.5 C245,1139 232,1132 220,1125 C205,1116 195,1108 182,1107 C172,1106 165,1107 161.8,1104.6 Z" fill="none" stroke="#000" stroke-width="2.6" stroke-linejoin="round"/>
</svg>
</body></html>
